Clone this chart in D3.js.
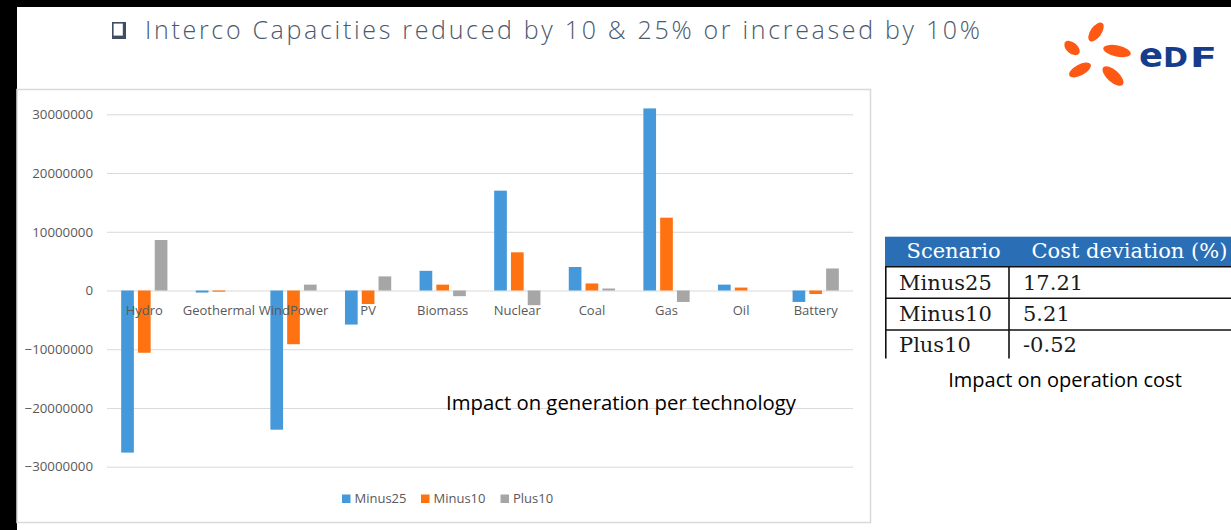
<!DOCTYPE html>
<html><head><meta charset="utf-8">
<script src="https://cdn.jsdelivr.net/npm/d3@7"></script>
<style>body{margin:0;background:#fff;overflow:hidden;} svg{display:block;}</style>
</head><body>
<svg id="c" width="1231" height="530"></svg>
<script>
// Generation change per technology for each interconnection scenario
const categories = ["Hydro","Geothermal","WindPower","PV","Biomass","Nuclear","Coal","Gas","Oil","Battery"];
const seriesNames = ["Minus25","Minus10","Plus10"];
const minus25 = [-27.6e6, -0.35e6, -23.7e6, -5.8e6, 3.35e6, 17.0e6, 4.0e6, 31.0e6, 1.0e6, -1.95e6];
const minus10 = [-10.6e6, -0.2e6, -9.15e6, -2.3e6, 1.0e6, 6.5e6, 1.2e6, 12.4e6, 0.5e6, -0.6e6];
const plus10  = [8.6e6, 0, 1.0e6, 2.4e6, -0.97e6, -2.5e6, 0.34e6, -1.95e6, 0, 3.75e6];
const yTicks = [-30e6, -20e6, -10e6, 0, 10e6, 20e6, 30e6];
const seriesColors = ["#4599DA", "#FF7212", "#A6A6A6"];

// Operation cost table
const tableHeader = ["Scenario", "Cost deviation (%)"];
const costScenarios = ["Minus25", "Minus10", "Plus10"];
const costDeviation = [17.21, 5.21, -0.52];

const svg = d3.select("#c");
const W = 1231, H = 530;
const fmt2 = d3.formatLocale({decimal: ".", thousands: ",", grouping: [3], currency: ["", ""], minus: "-"}).format(".2f");

// page frame
svg.append("rect").attr("width", W).attr("height", H).attr("fill", "#fff");
svg.append("rect").attr("x", 0).attr("y", 0).attr("width", 17).attr("height", H).attr("fill", "#000");
svg.append("rect").attr("x", 0).attr("y", 0).attr("width", W).attr("height", 7).attr("fill", "#000");

// heading bullet (shadowed square) and heading text
svg.append("rect").attr("x", 112).attr("y", 22).attr("width", 14).attr("height", 17).attr("fill", "#3E4D63");
svg.append("rect").attr("x", 113.6).attr("y", 23.6).attr("width", 9.2).attr("height", 12).attr("fill", "#fff");
svg.append("text").attr("x", 145).attr("y", 39)
  .attr("font-family", "Open Sans").attr("font-weight", 300).attr("font-size", 25).attr("fill", "#4A596E")
  .attr("textLength", 835).attr("lengthAdjust", "spacing")
  .text("Interco Capacities reduced by 10 & 25% or increased by 10%");

// logo
const logo = svg.append("g");
const petals = [
  {cx: 1096, cy: 32, rx: 11, ry: 5.5, a: -55},
  {cx: 1072, cy: 48, rx: 9, ry: 5.5, a: 40},
  {cx: 1117, cy: 51, rx: 14, ry: 5.5, a: 12},
  {cx: 1080, cy: 70, rx: 12, ry: 5.5, a: -28},
  {cx: 1113, cy: 76, rx: 13, ry: 6, a: 42}
];
logo.selectAll("ellipse").data(petals).join("ellipse")
  .attr("cx", d => d.cx).attr("cy", d => d.cy).attr("rx", d => d.rx).attr("ry", d => d.ry)
  .attr("transform", d => `rotate(${d.a},${d.cx},${d.cy})`)
  .attr("fill", "#FE5815");
[["e", 1139, 24], ["D", 1163, 25], ["F", 1190, 27]].forEach(([ch, x, w]) => {
  logo.append("text").attr("x", x).attr("y", 67)
    .attr("font-family", "DejaVu Sans").attr("font-weight", "bold")
    .attr("font-size", ch === "e" ? 34 : 27).attr("fill", "#163C8C")
    .attr("textLength", w).attr("lengthAdjust", "spacingAndGlyphs")
    .text(ch);
});

// chart frame
svg.append("rect").attr("x", 17).attr("y", 89.5).attr("width", 853.5).attr("height", 433)
  .attr("fill", "#fff").attr("stroke", "#D9D9D9").attr("stroke-width", 1.5);

const plotL = 107, plotR = 853;
const x0 = d3.scaleBand().domain(categories).range([plotL, plotR]).paddingInner(0.38).paddingOuter(0.19);
const x1 = d3.scaleBand().domain(seriesNames).range([0, x0.bandwidth()]).paddingInner(0.244);
const y = d3.scaleLinear().domain([-30e6, 30e6]).range([466.7, 114.3]);

// gridlines
svg.append("g").attr("transform", `translate(${plotL},0)`)
  .call(d3.axisLeft(y).tickValues(yTicks).tickSize(-(plotR - plotL)).tickFormat(""))
  .call(g => g.select(".domain").remove())
  .call(g => g.selectAll("line").attr("stroke", "#D9D9D9").attr("stroke-width", 1));

// y labels
svg.append("g").attr("transform", `translate(93,0)`)
  .call(d3.axisLeft(y).tickValues(yTicks).tickSize(0).tickPadding(0).tickFormat(d3.format("d")))
  .call(g => g.select(".domain").remove())
  .call(g => g.selectAll("text").attr("font-family", "Open Sans").attr("font-size", 13.3).attr("fill", "#595959"));

// bars
const seriesValues = [minus25, minus10, plus10];
const rows = categories.map((c, i) => ({cat: c, vals: seriesNames.map((s, j) => ({s, j, v: seriesValues[j][i]}))}));
const groups = svg.append("g").selectAll("g").data(rows).join("g")
  .attr("transform", d => `translate(${x0(d.cat)},0)`);
groups.selectAll("rect").data(d => d.vals).join("rect")
  .attr("x", d => x1(d.s)).attr("width", x1.bandwidth())
  .attr("y", d => y(Math.max(0, d.v)))
  .attr("height", d => Math.abs(y(d.v) - y(0)))
  .attr("fill", d => seriesColors[d.j]);

// category labels
svg.append("g").attr("transform", `translate(0,${y(0)})`)
  .call(d3.axisBottom(x0).tickSize(0).tickPadding(0))
  .call(g => g.select(".domain").remove())
  .call(g => g.selectAll("text").attr("dy", null).attr("y", 24.5)
    .attr("font-family", "Open Sans").attr("font-size", 13).attr("fill", "#595959"));

// legend
const legendX = [342, 421, 500.5];
const leg = svg.append("g").selectAll("g").data(seriesNames).join("g")
  .attr("transform", (d, i) => `translate(${legendX[i]},0)`);
leg.append("rect").attr("x", 0).attr("y", 494.5).attr("width", 8.5).attr("height", 8.5)
  .attr("fill", (d, i) => seriesColors[i]);
leg.append("text").attr("x", 12.5).attr("y", 503).attr("font-family", "Open Sans").attr("font-size", 13)
  .attr("fill", "#595959").text(d => d);

// chart caption
svg.append("text").attr("x", 446).attr("y", 410).attr("font-family", "Open Sans").attr("font-size", 20)
  .attr("fill", "#000").attr("textLength", 350).attr("lengthAdjust", "spacingAndGlyphs")
  .text("Impact on generation per technology");

// cost table
const tb = svg.append("g");
const rowY = [266.7, 298.3, 330];
tb.append("rect").attr("x", 885).attr("y", 236.7).attr("width", W - 885).attr("height", 30).attr("fill", "#2A6FB6");
tb.append("text").attr("x", 906.5).attr("y", 258).attr("font-family", "DejaVu Serif").attr("font-size", 21)
  .attr("fill", "#fff").text(tableHeader[0]);
tb.append("text").attr("x", 1031.5).attr("y", 258).attr("font-family", "DejaVu Serif").attr("font-size", 21)
  .attr("fill", "#fff").text(tableHeader[1]);
tb.selectAll("line.h").data(rowY).join("line").attr("class", "h")
  .attr("x1", 885).attr("x2", W).attr("y1", d => d).attr("y2", d => d)
  .attr("stroke", "#111").attr("stroke-width", 1.6);
[885.8, 1009].forEach(xv => {
  tb.append("line").attr("x1", xv).attr("x2", xv).attr("y1", 266.7).attr("y2", 358.5)
    .attr("stroke", "#111").attr("stroke-width", 1.6);
});
costScenarios.forEach((s, i) => {
  const base = [290, 320.5, 352][i];
  tb.append("text").attr("x", 899).attr("y", base).attr("font-family", "DejaVu Serif").attr("font-size", 21)
    .attr("fill", "#1a1a1a").text(s);
  tb.append("text").attr("x", 1023).attr("y", base).attr("font-family", "DejaVu Serif").attr("font-size", 21)
    .attr("fill", "#1a1a1a").text(fmt2(costDeviation[i]));
});
svg.append("text").attr("x", 1065).attr("y", 387).attr("text-anchor", "middle")
  .attr("font-family", "Open Sans").attr("font-size", 20).attr("fill", "#000")
  .text("Impact on operation cost");
</script>
</body></html>
